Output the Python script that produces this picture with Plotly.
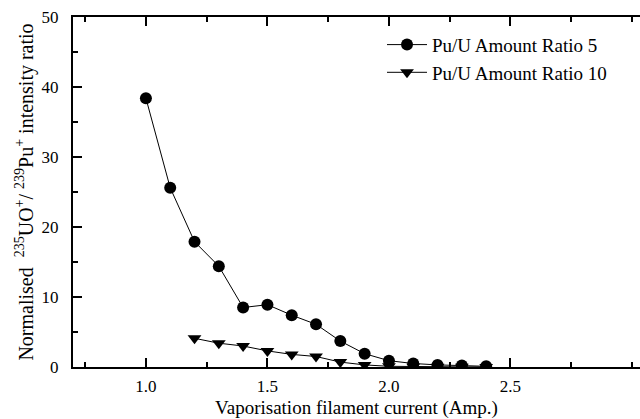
import plotly.graph_objects as go

current_5 = [1.0, 1.1, 1.2, 1.3, 1.4, 1.5, 1.6, 1.7, 1.8, 1.9, 2.0, 2.1, 2.2, 2.3, 2.4]
ratio_5 = [38.4, 25.6, 17.9, 14.4, 8.5, 8.9, 7.4, 6.1, 3.7, 1.9, 0.9, 0.5, 0.3, 0.2, 0.1]
current_10 = [1.2, 1.3, 1.4, 1.5, 1.6, 1.7, 1.8, 1.9, 2.0, 2.1, 2.2, 2.3, 2.4]
ratio_10 = [4.1, 3.4, 3.0, 2.3, 1.8, 1.5, 0.7, 0.3, 0.1, 0.05, 0.03, 0.02, 0.01]

x_ticks = [1.0, 1.5, 2.0, 2.5]
y_ticks = [0, 10, 20, 30, 40, 50]

font = "Liberation Serif"

fig = go.Figure()
fig.add_trace(go.Scatter(
    x=current_5, y=ratio_5, mode="lines+markers", name="Pu/U Amount Ratio 5",
    line=dict(color="black", width=1),
    marker=dict(symbol="circle", size=12, color="black"),
))
fig.add_trace(go.Scatter(
    x=current_10, y=ratio_10, mode="lines+markers", name="Pu/U Amount Ratio 10",
    line=dict(color="black", width=1),
    marker=dict(symbol="triangle-down", size=12, color="black"),
))

fig.update_layout(
    template="plotly_white",
    width=640, height=419,
    margin=dict(l=73, r=0, t=17, b=52),
    plot_bgcolor="white", paper_bgcolor="white",
    font=dict(family=font, size=17, color="black"),
    showlegend=True,
    legend=dict(x=0.545, y=0.975, xanchor="left", yanchor="top",
                bgcolor="rgba(0,0,0,0)", font=dict(family=font, size=19, color="black"),
                itemwidth=40, tracegroupgap=0),
    xaxis=dict(
        range=[0.7, 3.033], tickvals=x_ticks, ticktext=["1.0", "1.5", "2.0", "2.5"],
        ticks="inside", ticklen=9, tickwidth=1.5, tickcolor="black",
        showline=True, linecolor="black", linewidth=2, mirror="ticks",
        showgrid=False, zeroline=False, ticklabelstandoff=3,
        minor=dict(dtick=0.25, tick0=0, ticks="inside", ticklen=5, tickcolor="black", tickwidth=1.5, showgrid=False),
        title=dict(text="Vaporisation filament current (Amp.)", font=dict(family=font, size=19, color="black"), standoff=6),
        tickfont=dict(family=font, size=17, color="black"),
    ),
    yaxis=dict(
        range=[0, 50], tickvals=y_ticks,
        ticks="inside", ticklen=9, tickwidth=1.5, tickcolor="black",
        showline=True, linecolor="black", linewidth=2,
        showgrid=False, zeroline=False, ticklabelstandoff=9,
        minor=dict(dtick=5, tick0=0, ticks="inside", ticklen=5, tickcolor="black", tickwidth=1.5, showgrid=False),
        title=dict(text="Normalised  <sup>235</sup>UO<sup>+</sup>/ <sup>239</sup>Pu<sup>+</sup> intensity ratio",
                   font=dict(family=font, size=20, color="black"), standoff=3),
        tickfont=dict(family=font, size=17, color="black"),
    ),
)

fig.write_html("out.html")
